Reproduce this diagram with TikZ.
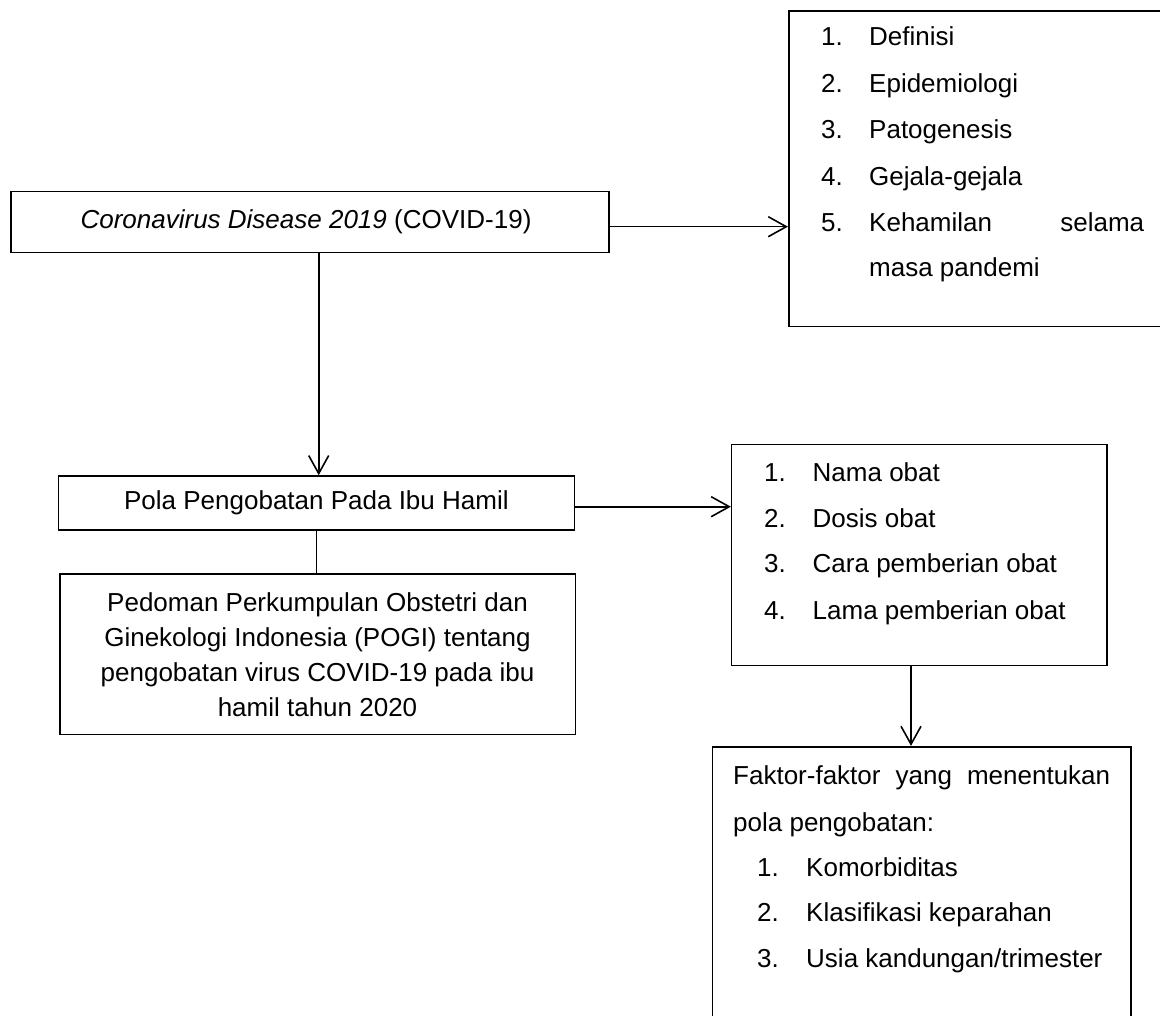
\documentclass[tikz,border=0pt]{standalone}
\usepackage{fontspec}
\setmainfont{Liberation Sans}
\usetikzlibrary{arrows.meta}
\begin{document}
\begin{tikzpicture}[x=1pt,y=-1pt,
  font=\fontsize{26}{35}\selectfont,
  box/.style={draw=black, line width=1.6pt, rectangle, inner sep=0pt, align=center},
  txt/.style={anchor=base west, inner sep=0pt},
  arr/.style={line width=1.6pt, -{Straight Barb[length=18pt,width=20pt,line width=1.6pt]}},
  ln/.style={line width=1.6pt}]
\useasboundingbox (0,0) rectangle (1160,1016);
\clip (0,0) rectangle (1160,1016);
\fill[white] (0,0) rectangle (1160,1016);
% boxes
\node[box, minimum width=598pt, minimum height=61pt] (b1) at (310.2,222.2) {};
\node[inner sep=0pt] (t1) at (306,222.2) {\textit{Coronavirus Disease 2019} (COVID-19)};
\node[box, minimum width=400pt, minimum height=315.7pt] (b2) at (988.7,168.85) {};
\node[box, minimum width=516pt, minimum height=54pt] (b3) at (316.4,503) {Pola Pengobatan Pada Ibu Hamil};
\node[box, minimum width=515.6pt, minimum height=160.7pt] (b4) at (317.5,654.3) {Pedoman Perkumpulan Obstetri dan\\Ginekologi Indonesia (POGI) tentang\\pengobatan virus COVID-19 pada ibu\\hamil tahun 2020};
\node[box, minimum width=375.3pt, minimum height=221pt] (b5) at (919.3,554.8) {};
\node[box, minimum width=418.2pt, minimum height=300pt] (b6) at (921.6,896.7) {};
% list in b2
\node[txt] (n21) at (821,46) {1.};  \node[txt] (t21) at (869,46) {Definisi};
\node[txt] (n22) at (821,93) {2.};  \node[txt] (t22) at (869,93) {Epidemiologi};
\node[txt] (n23) at (821,139) {3.}; \node[txt] (t23) at (869,139) {Patogenesis};
\node[txt] (n24) at (821,186) {4.}; \node[txt] (t24) at (869,186) {Gejala-gejala};
\node[txt] (n25) at (821,232) {5.}; \node[txt] (t25) at (869,232) {\hbox to 275pt{Kehamilan\hfill selama}};
\node[txt] (t26) at (869,277) {masa pandemi};
% list in b5
\node[txt] (n51) at (764,481) {1.}; \node[txt] (t51) at (812.5,481) {Nama obat};
\node[txt] (n52) at (764,527) {2.}; \node[txt] (t52) at (812.5,527) {Dosis obat};
\node[txt] (n53) at (764,572) {3.}; \node[txt] (t53) at (812.5,572) {Cara pemberian obat};
\node[txt] (n54) at (764,619) {4.}; \node[txt] (t54) at (812.5,619) {Lama pemberian obat};
% text in b6
\node[txt] (t61) at (733,784) {\hbox to 377pt{Faktor-faktor\hfill yang\hfill menentukan}};
\node[txt] (t62) at (733,831) {pola pengobatan:};
\node[txt] (n63) at (757,876) {1.}; \node[txt] (t63) at (806,876) {Komorbiditas};
\node[txt] (n64) at (757,921) {2.}; \node[txt] (t64) at (806,921) {Klasifikasi keparahan};
\node[txt] (n65) at (757,967) {3.}; \node[txt] (t65) at (806,967) {Usia kandungan/trimester};
% connectors
\draw[arr] ([yshift=-4.5pt]b1.east) -- ([yshift=-4.5pt]b1.east -| b2.west);
\draw[arr] ([xshift=8.5pt]b1.south) -- ([xshift=8.5pt]b1.south |- b3.north);
\draw[ln] (b3.south) -- (b3.south |- b4.north);
\draw[arr] ([yshift=-3.7pt]b3.east) -- ([yshift=-3.7pt]b3.east -| b5.west);
\draw[arr] ([xshift=-8.3pt]b5.south) -- ([xshift=-8.3pt]b5.south |- b6.north);
\end{tikzpicture}
\end{document}
